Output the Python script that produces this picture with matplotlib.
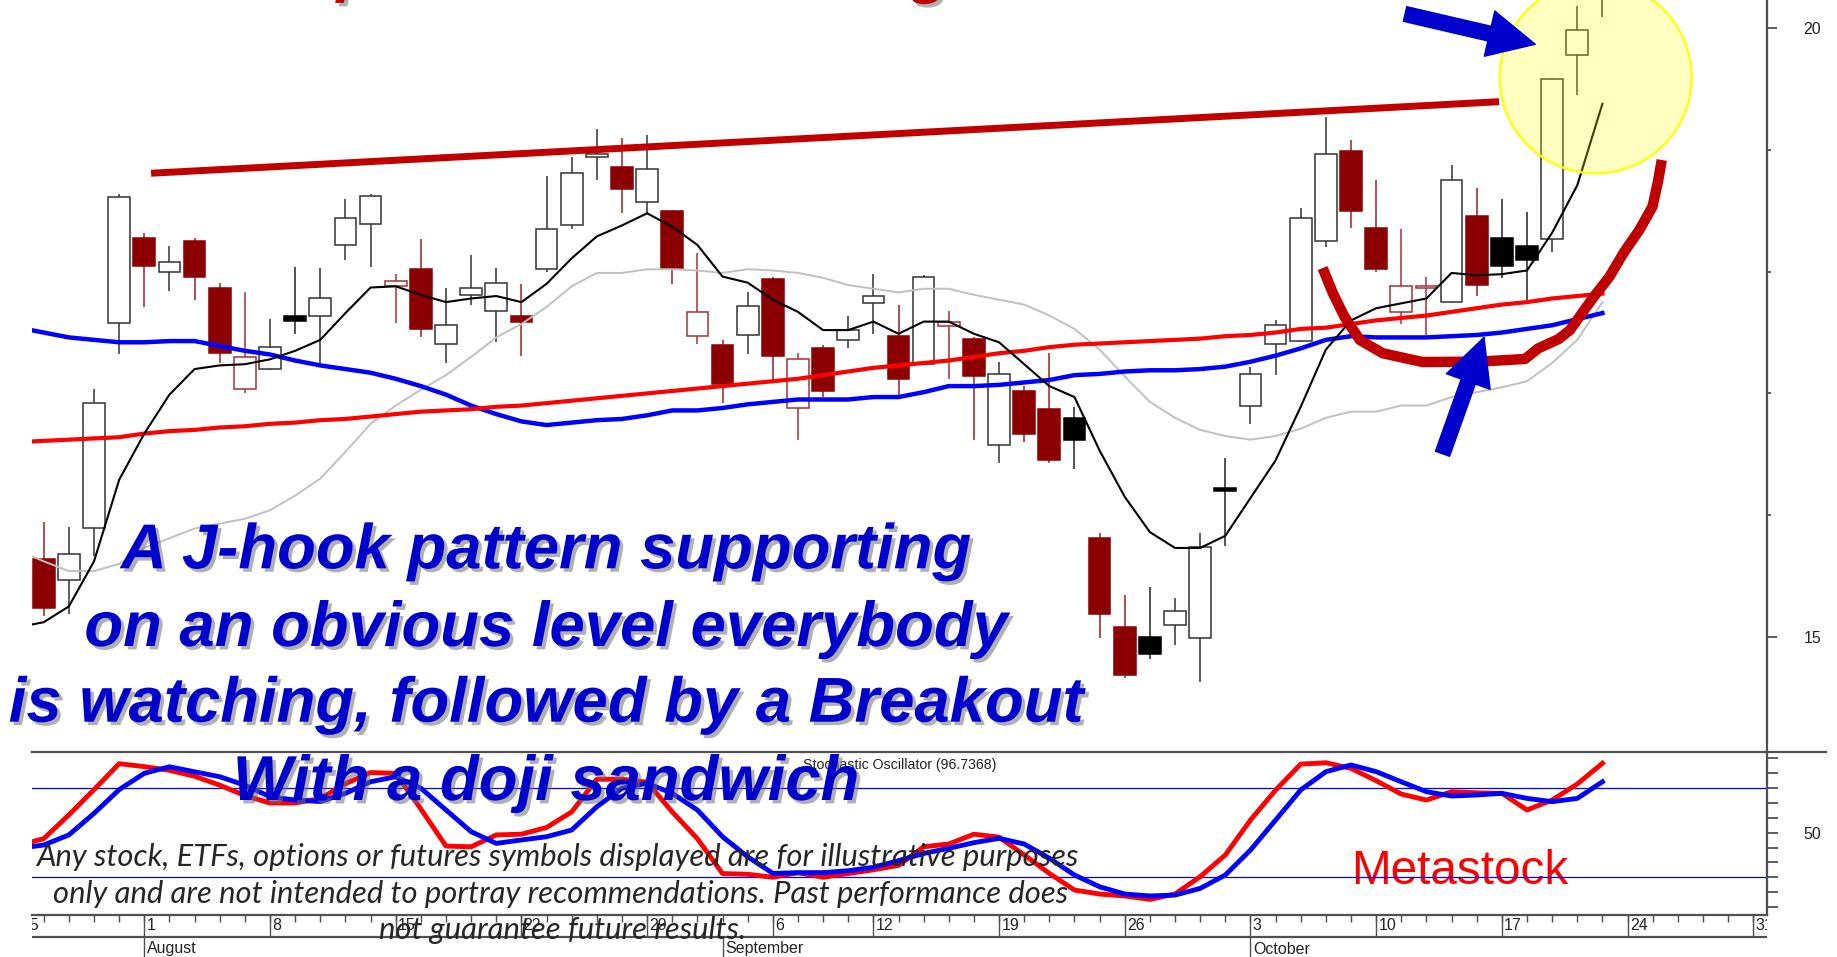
import numpy as np
import pandas as pd
import matplotlib
matplotlib.use("Agg")
import matplotlib.pyplot as plt
from matplotlib.patches import Ellipse, FancyArrowPatch
from matplotlib.lines import Line2D
from matplotlib.ticker import FormatStrFormatter
from matplotlib import patheffects as pe

# ---------------- data ----------------
trading_days = pd.bdate_range("2011-07-25", "2011-10-31", freq="C", holidays=["2011-09-05"])

# candles: 2011-07-26 .. 2011-10-21  (position 1 .. 63)
opens = [15.64, 15.47, 15.89, 17.58, 18.28, 18.00, 18.25, 17.87, 17.04, 17.20,
         17.64, 17.64, 18.22, 18.39, 17.88, 18.02, 17.41, 17.81, 17.68, 17.64,
         18.02, 18.38, 18.94, 18.86, 18.57, 18.50, 17.47, 17.40, 17.48, 17.94,
         16.88, 17.37, 17.44, 17.74, 17.47, 17.24, 17.55, 17.45, 16.58, 17.02,
         16.87, 16.80, 15.81, 15.08, 15.00, 15.10, 14.99, 16.22, 16.90, 17.41,
         17.43, 18.25, 18.99, 18.36, 17.67, 17.87, 17.75, 18.46, 18.28, 18.21,
         18.27, 19.78, 20.45]
highs = [15.94, 15.90, 17.04, 18.64, 18.32, 18.21, 18.28, 17.91, 17.83, 17.61,
         18.04, 18.03, 18.60, 18.64, 17.98, 18.27, 17.87, 18.14, 18.03, 17.90,
         18.79, 18.94, 19.17, 19.10, 19.12, 18.51, 18.15, 17.44, 17.83, 17.96,
         17.33, 17.40, 17.64, 17.98, 17.73, 17.97, 17.68, 17.46, 17.26, 17.06,
         17.33, 16.89, 15.85, 15.34, 15.41, 15.32, 15.85, 16.47, 17.22, 17.60,
         18.52, 19.27, 19.08, 18.75, 18.35, 17.96, 18.88, 18.69, 18.60, 18.49,
         19.59, 20.18, 21.30]
lows = [15.17, 15.19, 15.66, 17.32, 17.71, 17.84, 17.77, 17.25, 17.00, 17.19,
        17.49, 17.25, 18.10, 18.04, 17.58, 17.46, 17.25, 17.73, 17.42, 17.31,
        18.00, 18.35, 18.75, 18.48, 18.48, 17.90, 17.41, 16.92, 17.32, 17.11,
        16.62, 16.97, 17.37, 17.49, 16.99, 17.23, 17.12, 16.62, 16.43, 16.60,
        16.43, 16.38, 14.99, 14.66, 14.82, 14.93, 14.63, 15.75, 16.75, 17.15,
        17.42, 18.20, 18.36, 18.00, 17.57, 17.48, 17.74, 17.80, 17.95, 17.76,
        18.16, 19.45, 20.09]
closes = [15.24, 15.68, 16.92, 18.61, 18.05, 18.08, 17.96, 17.33, 17.30, 17.38,
          17.595, 17.78, 18.44, 18.62, 17.92, 17.53, 17.56, 17.87, 17.91, 17.59,
          18.35, 18.81, 18.97, 18.68, 18.84, 18.03, 17.67, 17.08, 17.72, 17.31,
          17.28, 17.02, 17.52, 17.80, 17.12, 17.96, 17.59, 17.14, 17.16, 16.67,
          16.45, 16.62, 15.19, 14.69, 14.86, 15.21, 15.74, 16.20, 17.16, 17.56,
          18.44, 18.97, 18.50, 18.02, 17.885, 17.88, 18.75, 17.89, 18.05, 18.10,
          19.58, 19.99, 21.15]

# indicator lines: 2011-07-25 .. 2011-10-21 (position 0 .. 63)
ma_black = [15.08, 15.12, 15.25, 15.62, 16.29, 16.67, 16.99, 17.20, 17.23, 17.24,
            17.28, 17.35, 17.44, 17.66, 17.87, 17.88, 17.81, 17.75, 17.78, 17.80,
            17.75, 17.90, 18.11, 18.29, 18.38, 18.48, 18.37, 18.22, 17.96, 17.91,
            17.77, 17.67, 17.52, 17.52, 17.59, 17.49, 17.59, 17.59, 17.49, 17.42,
            17.24, 17.06, 16.97, 16.53, 16.15, 15.86, 15.73, 15.73, 15.83, 16.14,
            16.45, 16.89, 17.36, 17.60, 17.70, 17.74, 17.78, 17.99, 17.97, 17.98,
            18.01, 18.32, 18.71, 19.38]
ma_grey = [15.71, 15.62, 15.54, 15.54, 15.60, 15.73, 15.81, 15.89, 15.93, 15.97,
           16.04, 16.16, 16.30, 16.52, 16.75, 16.90, 17.03, 17.15, 17.30, 17.46,
           17.57, 17.71, 17.88, 17.99, 17.99, 18.02, 18.02, 18.01, 17.99, 18.02,
           18.01, 17.99, 17.95, 17.89, 17.86, 17.83, 17.86, 17.86, 17.81, 17.77,
           17.73, 17.64, 17.53, 17.36, 17.14, 16.93, 16.80, 16.70, 16.65, 16.62,
           16.65, 16.71, 16.80, 16.85, 16.85, 16.90, 16.90, 16.97, 17.01, 17.05,
           17.10, 17.25, 17.44, 17.75]
ma_blue = [17.54, 17.50, 17.46, 17.44, 17.42, 17.42, 17.43, 17.43, 17.39, 17.35,
           17.32, 17.27, 17.23, 17.20, 17.17, 17.12, 17.06, 16.99, 16.90, 16.83,
           16.77, 16.74, 16.76, 16.78, 16.79, 16.82, 16.86, 16.86, 16.88, 16.91,
           16.93, 16.95, 16.95, 16.95, 16.97, 16.97, 17.01, 17.06, 17.06, 17.07,
           17.09, 17.11, 17.15, 17.16, 17.18, 17.19, 17.19, 17.20, 17.22, 17.26,
           17.31, 17.37, 17.44, 17.47, 17.46, 17.46, 17.46, 17.47, 17.48, 17.50,
           17.53, 17.56, 17.61, 17.66]
ma_red = [16.60, 16.61, 16.62, 16.63, 16.64, 16.67, 16.69, 16.70, 16.72, 16.73,
          16.75, 16.76, 16.78, 16.79, 16.81, 16.83, 16.85, 16.86, 16.87, 16.89,
          16.90, 16.92, 16.94, 16.96, 16.98, 17.00, 17.02, 17.04, 17.06, 17.08,
          17.10, 17.12, 17.15, 17.18, 17.21, 17.23, 17.25, 17.27, 17.30, 17.33,
          17.35, 17.38, 17.40, 17.41, 17.42, 17.43, 17.44, 17.45, 17.47, 17.48,
          17.50, 17.53, 17.54, 17.57, 17.60, 17.62, 17.64, 17.67, 17.70, 17.73,
          17.75, 17.78, 17.80, 17.82]
stoch_k = [41.5, 46, 62, 79, 96.5, 94.5, 92, 88, 82, 75,
           70, 70, 73, 83, 90.5, 90, 66, 41, 40.5, 48.5,
           49, 53.5, 64, 86, 86, 84, 64, 46, 22.5, 22,
           20, 23, 20, 22.5, 25, 28, 40.5, 42.4, 49, 47,
           35, 22.6, 11.4, 8.7, 7.4, 5.1, 8.7, 20.4, 35, 58.5,
           78.7, 96.2, 97.1, 93.3, 85, 76, 72, 77.6, 76.9, 76.5,
           65.3, 72, 82.8, 96.7368]
stoch_d = [39.5, 41.7, 48.5, 63, 79, 90, 94.4, 91, 87.7, 82,
           74.2, 72, 71, 76.5, 84.3, 87.7, 80, 65.3, 50.7, 42.8,
           45.1, 47.3, 51.8, 67.5, 79.9, 83.3, 76.5, 65.3, 47.3, 33.8,
           22.6, 23.1, 23.1, 24.4, 26.7, 31.2, 36, 39.5, 43.3, 46.2,
           42.4, 32.8, 21.5, 13.6, 8.7, 7.4, 8.0, 12.5, 21.5, 38.3,
           58.5, 78.8, 91.1, 95.6, 91.1, 84.3, 77.6, 74.7, 75.4, 76.5,
           73.1, 70.9, 73.1, 84.3]
stoch_levels = [20, 80]

# hand-drawn annotations (bar position, price)
trend_x = [5.27, 58.89]
trend_y = [18.809, 19.397]
hook_x = [51.87, 52.28, 52.74, 53.35, 54.26, 55.84, 58.07, 59.92, 60.44, 61.26,
          61.71, 62.11, 62.61, 63.28, 63.87, 64.47, 64.99, 65.21, 65.36]
hook_y = [18.030, 17.823, 17.630, 17.439, 17.330, 17.258, 17.261, 17.283, 17.369, 17.447,
          17.521, 17.636, 17.781, 17.959, 18.164, 18.343, 18.534, 18.740, 18.918]
circle_center = (62.73, 19.597)
arrows = [((55.15, 20.1175), (60.33, 19.869)),
          ((56.64, 16.504), (58.29, 17.461))]

big_lines = ["A J-hook pattern supporting", "on an obvious level everybody",
             "is watching, followed by a Breakout", "With a doji sandwich"]
disclaimer = ["Any stock, ETFs, options or futures symbols displayed are for illustrative purposes",
              "only and are not intended to portray recommendations. Past performance does",
              "not guarantee future results."]

# ---------------- figure ----------------
W, H, DPI = 1837, 957, 100
fig = plt.figure(figsize=(W / DPI, H / DPI), dpi=DPI, facecolor="white")

def rect(x0, y0, x1, y1):
    return [x0 / W, 1 - y1 / H, (x1 - x0) / W, (y1 - y0) / H]

NARROW = ["Liberation Sans Narrow", "Liberation Sans", "DejaVu Sans"]
AX_COL = "#505050"
X_LEFT, X_RIGHT = 31.7, 1766.5
PX0, PXSTEP = 18.6, 25.14
xlim = ((X_LEFT - PX0) / PXSTEP, (X_RIGHT - PX0) / PXSTEP)
Y_DIV, Y_BOT, Y_MONTH = 751.7, 915.0, 936.7
PY20, PYSTEP = 28.3, 121.7          # pixel of price 20, pixels per unit
SY50, SYSTEP = 832.7, 1.485         # pixel of stoch 50, pixels per unit

axm = fig.add_axes(rect(X_LEFT, 0, X_RIGHT, Y_DIV))
axs = fig.add_axes(rect(X_LEFT, Y_DIV, X_RIGHT, Y_BOT))
axd = fig.add_axes(rect(X_LEFT, Y_BOT, X_RIGHT, H))

# ---- main price panel ----
axm.set_xlim(xlim)
axm.set_ylim(20 - (Y_DIV - PY20) / PYSTEP, 20 + PY20 / PYSTEP)
for s in ["top", "left", "bottom"]:
    axm.spines[s].set_visible(False)
axm.spines["right"].set_color(AX_COL)
axm.spines["right"].set_linewidth(1.6)
axm.yaxis.tick_right()
axm.set_xticks([])
axm.set_yticks([15, 20])
axm.set_yticks([16, 17, 18, 19], minor=True)
axm.yaxis.set_major_formatter(FormatStrFormatter("%d"))
axm.tick_params(axis="y", which="major", length=7.5, width=1.3, color=AX_COL, pad=19,
                labelsize=11.5, labelcolor="#222222")
axm.tick_params(axis="y", which="minor", length=3.2, width=1.3, color=AX_COL)
for lab in axm.get_yticklabels():
    lab.set_family(NARROW)

o = np.array(opens); h = np.array(highs); l = np.array(lows); c = np.array(closes)
xc = np.arange(1, len(c) + 1)
prev = np.concatenate([[o[0]], c[:-1]])
hollow = c >= o
down = c < prev
faces, edges, wicks = [], [], []
for hol, dn in zip(hollow, down):
    if hol and not dn:
        faces.append("white"); edges.append("#333333"); wicks.append("#333333")
    elif hol and dn:
        faces.append("white"); edges.append("#A83232"); wicks.append("#A83232")
    elif dn:
        faces.append("#8B0000"); edges.append("#8B0000"); wicks.append("#9A2020")
    else:
        faces.append("black"); edges.append("black"); wicks.append("#222222")
axm.vlines(xc, l, h, colors=wicks, linewidth=1.1, zorder=2)
axm.bar(xc, np.abs(c - o), bottom=np.minimum(o, c), width=0.863, color=faces,
        edgecolor=edges, linewidth=1.1, zorder=2.5)

pm = np.arange(len(ma_black))
axm.plot(pm, ma_grey, color="#C0C0C0", lw=1.4, zorder=3)
axm.plot(pm, ma_blue, color="#0000FF", lw=3.2, zorder=3)
axm.plot(pm, ma_red, color="#FF0000", lw=3.0, zorder=3)
axm.plot(pm, ma_black, color="black", lw=1.5, zorder=3.2)

# annotations on the price panel
axm.plot(trend_x, trend_y, color="#C00000", lw=5, solid_capstyle="butt", zorder=4)
axm.plot(hook_x, hook_y, color="#C00000", lw=7.5, solid_joinstyle="round",
         solid_capstyle="butt", zorder=4)
axm.add_patch(Ellipse(circle_center, 192 / PXSTEP, 192 / PYSTEP, facecolor=(1, 1, 0, 0.25),
                      edgecolor="#FFFF00", lw=1.6, zorder=5))
for tail, tip in arrows:
    axm.add_patch(FancyArrowPatch(tail, tip,
                                  arrowstyle="simple,head_length=33.8,head_width=33.4,tail_width=10.8",
                                  mutation_scale=1, color="#0000CC", shrinkA=0, shrinkB=0,
                                  zorder=6))

# ---- stochastic panel ----
axs.set_xlim(xlim)
axs.set_ylim(50 - (Y_BOT - SY50) / SYSTEP, 50 - (Y_DIV - SY50) / SYSTEP)
for s in ["top", "left"]:
    axs.spines[s].set_visible(False)
for s in ["right", "bottom"]:
    axs.spines[s].set_color(AX_COL)
    axs.spines[s].set_linewidth(1.6)
axs.yaxis.tick_right()
axs.set_xticks([])
sticks = np.arange(0, 101, 10)
axs.set_yticks(sticks)
axs.set_yticklabels(["%d" % t if t == 50 else "" for t in sticks])
axs.tick_params(axis="y", length=7.8, width=1.3, color=AX_COL, pad=19, labelsize=11.5,
                labelcolor="#222222")
for lab in axs.get_yticklabels():
    lab.set_family(NARROW)
for lv in stoch_levels:
    axs.axhline(lv, color="#0000FF", lw=0.9, zorder=2)
axs.plot(pm, stoch_k, color="#FF0000", lw=3.5, zorder=3)
axs.plot(pm, stoch_d, color="#0000FF", lw=3.5, zorder=3.1)
slab = axs.text(802.8 / W, 1 - 769.3 / H, "Stochastic Oscillator (%.4f)" % stoch_k[-1],
                transform=fig.transFigure, ha="left", va="baseline", fontsize=9,
                family=NARROW, color="#222222", zorder=4)
meta = axs.text(1351 / W, 1 - 884 / H, "Metastock", transform=fig.transFigure,
                ha="left", va="baseline", fontsize=34, family=["Liberation Sans", "DejaVu Sans"],
                color="#FF0000", zorder=1)

# ---- date strip ----
axd.set_xlim(xlim)
axd.set_ylim(H, Y_BOT)
axd.axis("off")
pos = np.arange(len(trading_days))
axd.vlines(pos, Y_BOT, Y_BOT + 6.7, color=AX_COL, lw=1.0)
week_pos = [i for i in range(len(trading_days))
            if i == 0 or trading_days[i].weekday() <= trading_days[i - 1].weekday()]
month_pos = [i for i in range(1, len(trading_days))
             if trading_days[i].month != trading_days[i - 1].month]
axd.vlines(week_pos, Y_BOT, Y_MONTH, color=AX_COL, lw=1.0)
axd.axhline(Y_MONTH, color=AX_COL, lw=1.6)
axd.vlines(month_pos, Y_MONTH, H, color=AX_COL, lw=1.0)
for i in week_pos:
    axd.text(i + 0.09, Y_BOT + 3, str(trading_days[i].day), ha="left", va="top",
             fontsize=11.5, family=NARROW, color="#222222", clip_on=True)
for i in month_pos:
    axd.text(i + 0.1, 953.5, trading_days[i].strftime("%B"), ha="left", va="baseline",
             fontsize=11.5, family=NARROW, color="#222222", clip_on=True)

# divider between panels (runs past the right axis)
fig.add_artist(Line2D([X_LEFT / W, 1826 / W], [1 - Y_DIV / H] * 2, color=AX_COL, lw=1.6))

# ---- overlay texts ----
shadow = [pe.withSimplePatchShadow(offset=(2.5, -2.5), shadow_rgbFace="#707070", alpha=0.55)]
big_baselines = [568.3, 646.0, 721.7, 800.0]
big = []
for s, yb in zip(big_lines, big_baselines):
    big.append(fig.text(546 / W, 1 - yb / H, s, ha="center", va="baseline", fontsize=45.5,
                        fontweight="bold", fontstyle="italic", color="#0000CC",
                        family=["Liberation Sans", "DejaVu Sans"], path_effects=shadow, zorder=10))
disc_baselines = [866.0, 902.7, 939.3]
disc_cx = [557, 561, 563]
disc = []
for s, yb, cx in zip(disclaimer, disc_baselines, disc_cx):
    disc.append(fig.text(cx / W, 1 - yb / H, s, ha="center", va="baseline", fontsize=17,
                         fontstyle="italic", color="#262626",
                         family=["Lato", "Open Sans", "DejaVu Sans"], zorder=10))
# descenders of a red title that lies above the picture
title_bits = []
for ch, xx, yb in [("p", 356, -10.3), ("g", 930, -9.0)]:
    title_bits.append(fig.text(xx / W, 1 - yb / H, ch, ha="center", va="baseline", fontsize=45.5,
                               fontweight="bold", fontstyle="italic", color="#C00000",
                               family=["Liberation Sans", "DejaVu Sans"], path_effects=shadow))

# fit widths to the reference
fig.canvas.draw()
r = fig.canvas.get_renderer()
sc = 1076 / big[2].get_window_extent(r).width
for t in big + title_bits:
    t.set_fontsize(t.get_fontsize() * sc)
sc = 1042 / disc[0].get_window_extent(r).width
for t in disc:
    t.set_fontsize(t.get_fontsize() * sc)
meta.set_fontsize(meta.get_fontsize() * 217 / meta.get_window_extent(r).width)
slab.set_fontsize(slab.get_fontsize() * 193 / slab.get_window_extent(r).width)

fig.savefig("out.png", dpi=DPI, facecolor="white")
